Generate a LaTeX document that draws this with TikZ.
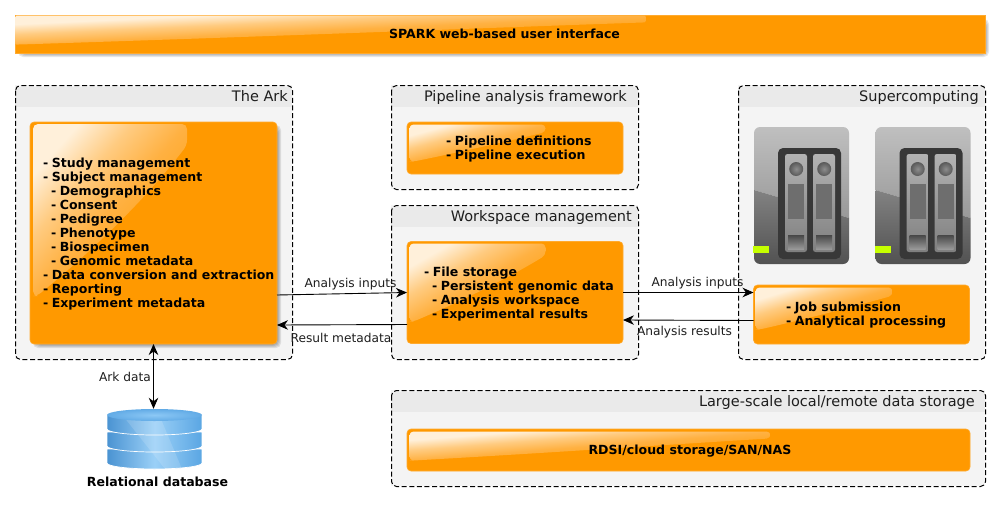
\documentclass[tikz,border=0pt]{standalone}
\usepackage{fontspec}
\setmainfont{DejaVu Sans}
\usetikzlibrary{arrows.meta,calc}
\definecolor{orangebox}{HTML}{FF9900}
\definecolor{orangeedge}{HTML}{FFAA2E}
\definecolor{clusterbg}{HTML}{F4F4F4}
\definecolor{clusterhead}{HTML}{EAEAEA}
\definecolor{glossa}{HTML}{FFF0DA}
\definecolor{glossq}{HTML}{FFCB80}
\definecolor{glossb}{HTML}{FFB142}
\definecolor{glossc}{HTML}{FFA41C}
\definecolor{textdark}{HTML}{1E1E1E}
\definecolor{dbedge}{HTML}{4A93D2}
\definecolor{dbmid}{HTML}{9BD0F7}
\definecolor{dbright}{HTML}{5AA6E3}
\definecolor{dbtop}{HTML}{8CC8F5}
\definecolor{dbrim}{HTML}{62ABE6}
\pgfdeclareverticalshading{glossramp}{100bp}{color(0bp)=(glossc); color(35bp)=(glossc); color(50bp)=(glossb); color(62.5bp)=(glossq); color(75bp)=(glossa); color(100bp)=(glossa)}
\newcommand{\dd}{-\hspace{3.4pt}}
\tikzset{
  x=1pt,y=-1pt,
  obox/.style={draw=orangeedge,line width=.6pt,fill=orangebox,rounded corners=4pt,inner sep=0pt,outer sep=0pt},
  clusterbox/.style={draw=none,fill=clusterbg,inner sep=0pt,outer sep=0pt},
  clusterline/.style={draw=black,line width=1pt,dash pattern=on 5pt off 2.6pt,rounded corners=5pt},
  clustertitle/.style={anchor=base east,inner sep=0pt,text=textdark,font=\fontsize{14.5}{16}\selectfont},
  itemlist/.style={anchor=west,align=left,inner sep=0pt,font=\fontsize{12.55}{14}\bfseries\selectfont},
  boldlabel/.style={inner sep=0pt,font=\fontsize{12.55}{14}\bfseries\selectfont},
  flowlabel/.style={inner sep=0pt,text=textdark,font=\fontsize{12.2}{14}\selectfont},
  flow/.style={draw=black,line width=.9pt,-{Stealth[length=11pt,width=9.5pt,inset=3.5pt]}},
  bothflow/.style={draw=black,line width=.9pt,{Stealth[length=11pt,width=9.5pt,inset=3.5pt]}-{Stealth[length=11pt,width=9.5pt,inset=3.5pt]}},
  softshade/.style={fill=black,fill opacity=.09,rounded corners=5pt}
}
% gloss: x y w h radius
\newcommand{\glossfill}[5]{%
  \begin{scope}
    \clip[rounded corners=#5] (#1,#2+#4) -- (#1,#2) -- (#1+#3,#2) -- (#1+#3,#2+#4*.10+4)
      .. controls (#1+#3*.72,#2+#4*.45) and (#1+#3*.38,#2+#4*.74) .. (#1+4,#2+#4) -- cycle;
    \shade[transform canvas={shift={(#1,#2)},xscale=#3/100,yscale=#4/100},
      shading=glossramp,shading angle=45]
      (0,0) rectangle (100,100);
  \end{scope}}
% cluster: name x1 y1 x2 y2 title titleright
\newcommand{\clusterframe}[7]{%
  \node[clusterbox,minimum width=#4pt-#2pt,minimum height=#5pt-#3pt] (#1) at ({(#2+#4)/2},{(#3+#5)/2}) {};
  \fill[clusterhead] (#2,#3+2) -- (#2,#3+22) -- (#4,#3+22) -- (#4,#3+2) -- cycle;
  \draw[clusterline] (#2+.5,#3+.5) rectangle (#4+.5,#5+.5);
  \node[clustertitle] (#1title) at (#7,#3+16) {#6};}
% server icon, offset x
\newcommand{\servericon}[2]{%
  \begin{scope}[shift={(#1,0)}]
    \node[inner sep=0pt,minimum width=95pt,minimum height=137pt] (#2) at (801.5,195.5) {};
    \begin{scope}
      \clip[rounded corners=6pt] (754,127) rectangle (849,264);
      \shade[top color=black!25,bottom color=black!40] (754,127) -- (849,127) -- (849,218) -- (754,190) -- cycle;
      \shade[top color=black!49,bottom color=black!68] (754,190) -- (849,218) -- (849,264) -- (754,264) -- cycle;
    \end{scope}
    \fill[black!78,rounded corners=5pt] (778,148) rectangle (841,259);
    \foreach \bx in {785,813}{
      \shade[top color=black!30,bottom color=black!50,rounded corners=2.5pt] (\bx,154) rectangle (\bx+22,252);
      \shade[inner color=black!45,outer color=black!65] (\bx+11.2,169) circle (7);
      \fill[black!57] (\bx+3,184) rectangle (\bx+19,219);
      \shade[top color=black!72,bottom color=black!40] (\bx+3,235) rectangle (\bx+19,249);
    }
    \fill[fill={rgb,255:red,198;green,255;blue,0}] (753,246) rectangle (769,253);
  \end{scope}}
\begin{document}
\begin{tikzpicture}
\useasboundingbox (0,0) rectangle (1000,506);
\fill[white] (0,0) rectangle (1000,506);

% banner shadow and banner
\foreach \d in {0,1,2,3}{\fill[softshade] (18+\d,19+\d) rectangle (989-\d,57-\d);}
\node[draw=orangeedge,line width=.5pt,fill=orangebox,inner sep=0pt,outer sep=0pt,minimum width=970pt,minimum height=38pt] (ui) at (500,34) {};
\glossfill{15.5}{15.5}{630}{29}{1pt}
\node[boldlabel] (uitext) at (504.5,34) {SPARK web-based user interface};

% clusters
\clusterframe{arkc}{15}{85}{292}{359}{The Ark}{288}
\clusterframe{pipec}{391}{85}{638}{189}{Pipeline analysis framework}{627}
\clusterframe{workc}{391}{205}{638}{359}{Workspace management}{632}
\clusterframe{superc}{738}{85}{985}{359}{Supercomputing}{979}
\clusterframe{storec}{391}{390}{985}{486}{Large-scale local/remote data storage}{975}

% Ark box with shadow
\foreach \d in {0,1,2,3}{\fill[softshade] (33+\d,125+\d) rectangle (281-\d,348-\d);}
\node[obox,minimum width=247pt,minimum height=222pt] (ark) at (153.5,233) {};
\glossfill{33}{124}{154}{172}{5pt}
\node[itemlist] (arktext) at (43,234) {\dd Study management\\\dd Subject management\\\hspace*{8pt}\dd Demographics\\\hspace*{8pt}\dd Consent\\\hspace*{8pt}\dd Pedigree\\\hspace*{8pt}\dd Phenotype\\\hspace*{8pt}\dd Biospecimen\\\hspace*{8pt}\dd Genomic metadata\\\dd Data conversion and extraction\\\dd Reporting\\\dd Experiment metadata};

% Pipeline
\node[obox,minimum width=216pt,minimum height=52pt] (pipe) at (515,148) {};
\glossfill{409.5}{124.5}{136}{37}{4pt}
\node[itemlist] (pipetext) at (446,149) {\dd Pipeline definitions\\\dd Pipeline execution};

% Workspace
\node[obox,minimum width=216pt,minimum height=102pt] (work) at (515,292.5) {};
\glossfill{409.5}{243.5}{136}{78}{4pt}
\node[itemlist] (worktext) at (424,294) {\dd File storage\\\hspace*{8pt}\dd Persistent genomic data\\\hspace*{8pt}\dd Analysis workspace\\\hspace*{8pt}\dd Experimental results};

% Servers
\servericon{0}{srva}
\servericon{121.5}{srvb}

% Job
\node[obox,minimum width=216pt,minimum height=59pt] (job) at (861.5,314.5) {};
\glossfill{755.5}{287.5}{137}{42}{4pt}
\node[itemlist] (jobtext) at (786,315) {\dd Job submission\\\dd Analytical processing};

% Storage
\node[obox,minimum width=563pt,minimum height=42pt] (store) at (688.5,450) {};
\glossfill{409.5}{431.5}{361}{29}{4pt}
\node[boldlabel] (storetext) at (690,451) {RDSI/cloud storage/SAN/NAS};

% Database
\node[inner sep=0pt,minimum width=95pt,minimum height=60pt] (db) at (154.5,439) {};
\foreach \t in {449,432,415}{
  \shade[left color=dbedge,right color=dbright,middle color=dbmid,draw=white,line width=.7pt]
    (107,\t) -- (107,\t+14) arc[start angle=180,end angle=360,x radius=47.5pt,y radius=6pt] -- (202,\t) -- cycle;
}
\begin{scope}
  \clip (107,412) -- (107,463) arc[start angle=180,end angle=360,x radius=47.5pt,y radius=6pt] -- (202,412) -- cycle;
  \fill[white,opacity=.14] (120,412) -- (165,469) -- (182,469) -- (158,412) -- cycle;
\end{scope}
\shade[inner color=dbtop,outer color=dbrim] (154.5,415) ellipse [x radius=47.5pt,y radius=6pt];

% Connectors
\draw[flow] ([yshift=-62pt]ark.east) -- (work.west);
\draw[flow] ([yshift=-32pt]work.west) -- ([yshift=-92pt]ark.east);
\draw[flow] (work.east) -- ([yshift=22pt]job.west);
\draw[flow] ([yshift=-6pt]job.west) -- ([yshift=-27.5pt]work.east);
\draw[bothflow] (ark.south) -- (ark.south |- db.north);

% Labels
\node[flowlabel] (l1) at (350.5,284) {Analysis inputs};
\node[flowlabel] (l2) at (341,338) {Result metadata};
\node[flowlabel] (l3) at (697.5,283) {Analysis inputs};
\node[flowlabel] (l4) at (684.5,332) {Analysis results};
\node[flowlabel] (l5) at (125,377) {Ark data};
\node[boldlabel] (dblabel) at (157.5,482) {Relational database};
\end{tikzpicture}
\end{document}
